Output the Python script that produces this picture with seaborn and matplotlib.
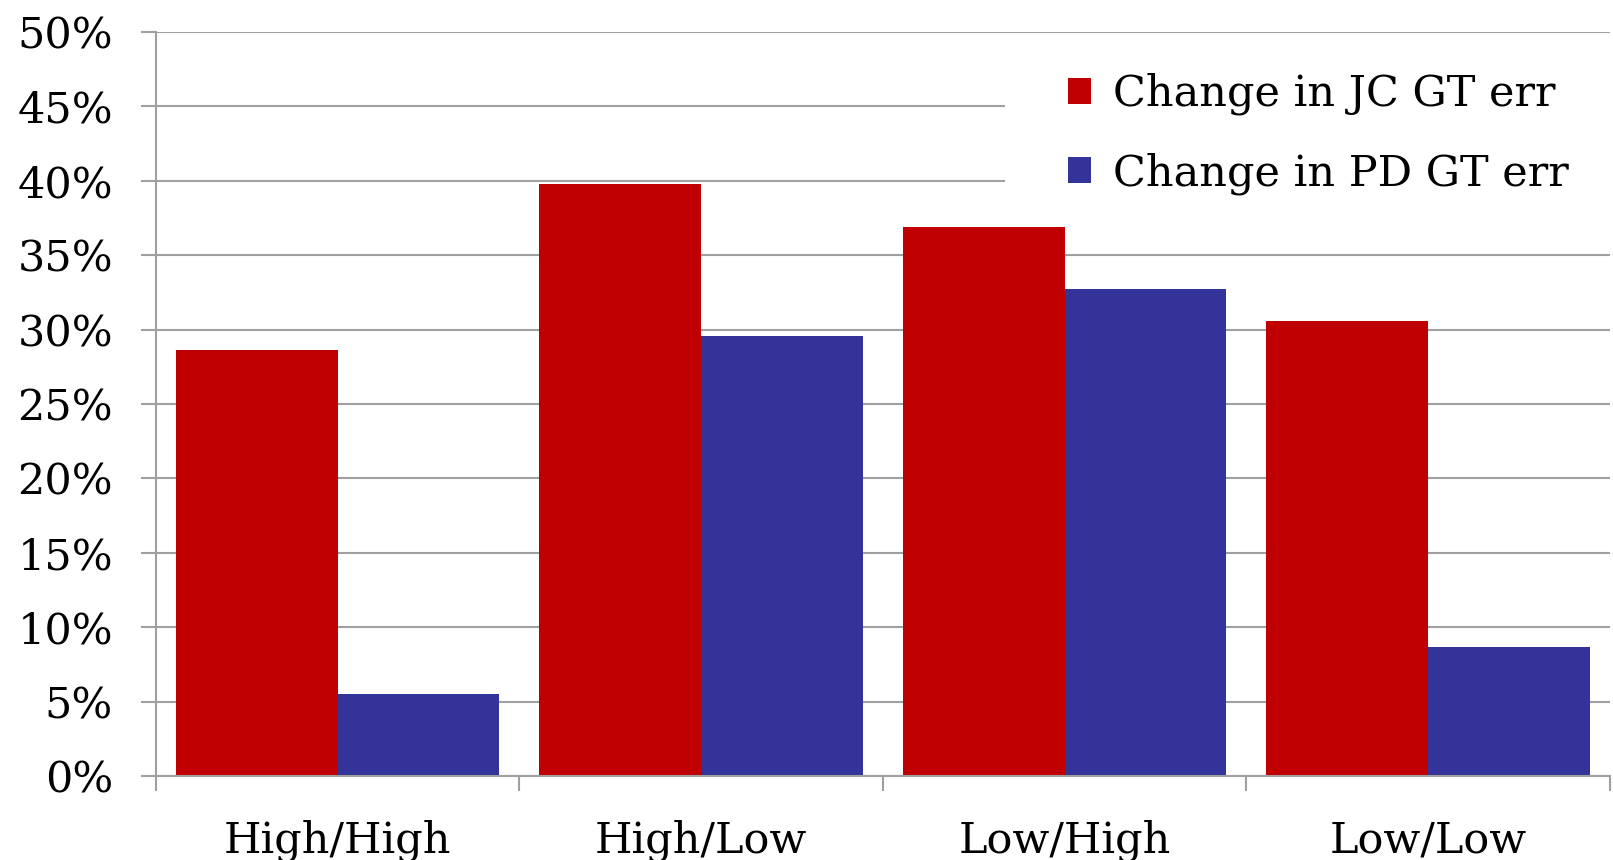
import numpy as np
import pandas as pd
import matplotlib
matplotlib.use("Agg")
import matplotlib.pyplot as plt
import seaborn as sns
from matplotlib.patches import Patch, Rectangle
from matplotlib.ticker import FixedLocator, PercentFormatter

# data
categories = ["High/High", "High/Low", "Low/High", "Low/Low"]
series_names = ["Change in JC GT err", "Change in PD GT err"]
jc_change = [28.6, 39.8, 36.9, 30.6]
pd_change = [5.5, 29.6, 32.7, 8.7]
colors = ["#C00000", "#333399"]

df = pd.DataFrame({
    "group": categories * 2,
    "series": [series_names[0]] * 4 + [series_names[1]] * 4,
    "value": jc_change + pd_change,
})

sns.set_style("white")
plt.rcParams["font.family"] = ["DejaVu Serif", "DejaVu Sans"]
plt.rcParams["text.color"] = "black"
plt.rcParams["xtick.color"] = "black"
plt.rcParams["ytick.color"] = "black"

fig = plt.figure(figsize=(16.13, 8.6), dpi=100)
ax = fig.add_axes([0.0967, 0.0977, 0.9013, 0.8651])

sns.barplot(data=df, x="group", y="value", hue="series", order=categories,
            hue_order=series_names, palette=colors, width=0.89, gap=0,
            saturation=1, linewidth=0, legend=False, ax=ax)

grid_col = "#A0A0A0"
ax.set_ylim(0, 50)
ax.set_xlim(-0.5, 3.5)
ax.set_yticks(np.arange(0, 51, 5))
ax.yaxis.set_major_formatter(PercentFormatter(decimals=0))
ax.yaxis.grid(True, color=grid_col, linewidth=1.5)
ax.set_axisbelow(True)
ax.set_xlabel("")
ax.set_ylabel("")

for s in ["top", "right"]:
    ax.spines[s].set_visible(False)
for s in ["left", "bottom"]:
    ax.spines[s].set_color(grid_col)
    ax.spines[s].set_linewidth(1.5)

ax.tick_params(axis="y", which="major", length=11, width=1.5, color=grid_col,
               labelsize=31, labelcolor="black", pad=20, left=True,
               direction="out")
ax.tick_params(axis="x", which="major", length=0, labelsize=31,
               labelcolor="black", pad=31)
ax.xaxis.set_minor_locator(FixedLocator([-0.5, 0.5, 1.5, 2.5, 3.5]))
ax.tick_params(axis="x", which="minor", length=11, width=1.5, color=grid_col,
               bottom=True, direction="out")

# white panel behind the legend, hiding the gridlines there (kept under bars)
ax.add_patch(Rectangle((0.584, 0.745), 0.416, 0.235, transform=ax.transAxes,
                       facecolor="white", edgecolor="none", zorder=0.8))

handles = [Patch(facecolor=c, edgecolor="none") for c in colors]
leg = ax.legend(handles, series_names, loc="upper left",
                bbox_to_anchor=(0.627, 0.945), fontsize=31, frameon=False,
                handlelength=0.55, handleheight=0.55, handletextpad=0.5,
                labelspacing=0.86, borderpad=0, borderaxespad=0)
for t in leg.get_texts():
    t.set_color("black")

fig.savefig("out.png", dpi=100)
